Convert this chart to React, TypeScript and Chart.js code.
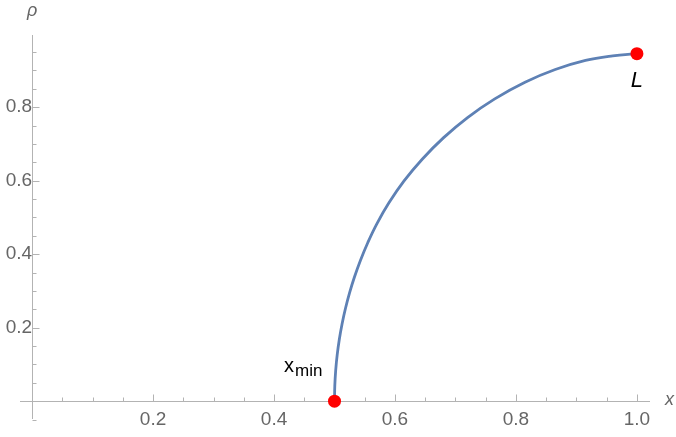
import React, { useEffect, useRef } from "react";
import { Chart, registerables } from "chart.js";

Chart.register(...registerables);

// curve rho(x)
const curveX = [0.5, 0.5005, 0.502, 0.5045, 0.508, 0.5125, 0.518, 0.525, 0.533, 0.543, 0.555, 0.57, 0.59, 0.615, 0.645, 0.68, 0.72, 0.765, 0.815, 0.865, 0.915, 0.96, 1.0];
const curveY = [0, 0.042, 0.0845, 0.1266, 0.1685, 0.21, 0.2514, 0.2953, 0.3378, 0.3836, 0.4312, 0.4825, 0.5397, 0.5993, 0.6584, 0.7166, 0.7719, 0.8227, 0.868, 0.9025, 0.9273, 0.9396, 0.9456];

// marked points
const markX = [0.5, 1.0];
const markY = [0, 0.9456];

// tick labels
const xTickValues = [0.2, 0.4, 0.6, 0.8, 1.0];
const yTickValues = [0.2, 0.4, 0.6, 0.8];
const xMinorTicks = [0.05, 0.1, 0.15, 0.25, 0.3, 0.35, 0.45, 0.5, 0.55, 0.65, 0.7, 0.75, 0.85, 0.9, 0.95];
const yMinorTicks = [-0.05, 0.05, 0.1, 0.15, 0.25, 0.3, 0.35, 0.45, 0.5, 0.55, 0.65, 0.7, 0.75, 0.85, 0.9, 0.95];

const FONT = "'Liberation Sans', Arial, sans-serif";
const AXIS_COLOR = "#b3b3b3";
const LABEL_COLOR = "#666666";
const LINE_COLOR = "#5e81b5";

const tickMarksPlugin = {
  id: "tickMarks",
  beforeDatasetsDraw(chart: any) {
    const { ctx, scales } = chart;
    const xs = scales.x;
    const ys = scales.y;
    const x0 = Math.round(xs.getPixelForValue(0)) + 0.5;
    const y0 = Math.round(ys.getPixelForValue(0)) + 0.5;
    ctx.save();
    ctx.strokeStyle = AXIS_COLOR;
    ctx.lineWidth = 1;
    ctx.beginPath();
    const drawX = (v: number, len: number) => {
      const px = Math.round(xs.getPixelForValue(v)) + 0.5;
      ctx.moveTo(px, y0);
      ctx.lineTo(px, y0 - len);
    };
    const drawY = (v: number, len: number) => {
      const py = Math.round(ys.getPixelForValue(v)) + 0.5;
      ctx.moveTo(x0, py);
      ctx.lineTo(x0 + len, py);
    };
    xTickValues.forEach((v) => drawX(v, 7));
    xMinorTicks.forEach((v) => drawX(v, 4));
    yTickValues.forEach((v) => drawY(v, 7));
    yMinorTicks.forEach((v) => drawY(v, 4));
    ctx.stroke();
    ctx.restore();
  },
};

const labelsPlugin = {
  id: "textLabels",
  afterDatasetsDraw(chart: any) {
    const { ctx, scales, chartArea } = chart;
    const xs = scales.x;
    const ys = scales.y;
    ctx.save();
    // axis labels
    ctx.fillStyle = LABEL_COLOR;
    ctx.font = `italic 18px ${FONT}`;
    ctx.textAlign = "center";
    ctx.textBaseline = "alphabetic";
    ctx.fillText("ρ", xs.getPixelForValue(0), chartArea.top - 19);
    ctx.textAlign = "left";
    ctx.fillText("x", chartArea.right + 16, ys.getPixelForValue(0) + 4);

    // x_min label
    ctx.fillStyle = "#000000";
    const px = xs.getPixelForValue(markX[0]);
    const py = ys.getPixelForValue(markY[0]);
    ctx.font = `17px ${FONT}`;
    ctx.textAlign = "right";
    const subW = ctx.measureText("min").width;
    ctx.fillText("min", px - 12, py - 25);
    ctx.font = `20px ${FONT}`;
    ctx.fillText("x", px - 12 - subW - 1, py - 29);

    // L label
    const lx = xs.getPixelForValue(markX[1]);
    const ly = ys.getPixelForValue(markY[1]);
    ctx.font = `italic 22px ${FONT}`;
    ctx.textAlign = "center";
    ctx.fillText("L", lx, ly + 33);
    ctx.restore();
  },
};

export default function App() {
  const canvasRef = useRef<HTMLCanvasElement | null>(null);

  useEffect(() => {
    document.body.style.margin = "0";
    const canvas = canvasRef.current;
    if (!canvas) return;
    const chart = new Chart(canvas, {
      type: "scatter",
      data: {
        datasets: [
          {
            label: "rho",
            data: curveX.map((x, i) => ({ x, y: curveY[i] })),
            showLine: true,
            borderColor: LINE_COLOR,
            borderWidth: 2.8,
            pointRadius: 0,
            tension: 0.4,
            fill: false,
            order: 2,
          },
          {
            label: "points",
            data: markX.map((x, i) => ({ x, y: markY[i] })),
            showLine: false,
            pointRadius: 6.5,
            pointBackgroundColor: "#ff0000",
            pointBorderWidth: 0,
            borderColor: "#ff0000",
            clip: false as any,
            order: 1,
          },
        ],
      },
      options: {
        responsive: false,
        animation: false,
        events: [],
        layout: { padding: { left: 20, right: 27, top: 35, bottom: 14 } },
        plugins: {
          legend: { display: false },
          tooltip: { enabled: false },
        },
        scales: {
          x: {
            type: "linear",
            min: -0.02,
            max: 1.02,
            position: { y: 0 } as any,
            grid: { display: true, drawOnChartArea: false, drawTicks: false },
            border: { display: true, color: AXIS_COLOR, width: 1 },
            afterBuildTicks: (s: any) => {
              s.ticks = xTickValues.map((v) => ({ value: v }));
            },
            ticks: {
              color: LABEL_COLOR,
              font: { family: FONT, size: 19 },
              padding: 7,
              maxRotation: 0,
              autoSkip: false,
              callback: (v: any) => Number(v).toFixed(1),
            },
          },
          y: {
            type: "linear",
            min: -0.0475,
            max: 0.9965,
            position: { x: 0 } as any,
            grid: { display: true, drawOnChartArea: false, drawTicks: false },
            border: { display: true, color: AXIS_COLOR, width: 1 },
            afterBuildTicks: (s: any) => {
              s.ticks = yTickValues.map((v) => ({ value: v }));
            },
            ticks: {
              color: LABEL_COLOR,
              font: { family: FONT, size: 19 },
              padding: 7,
              autoSkip: false,
              callback: (v: any) => Number(v).toFixed(1),
            },
          },
        },
      },
      plugins: [tickMarksPlugin, labelsPlugin],
    });
    return () => chart.destroy();
  }, []);

  return (
    <div style={{ width: 676, height: 437 }}>
      <canvas ref={canvasRef} width={676} height={437} style={{ display: "block" }} />
    </div>
  );
}
